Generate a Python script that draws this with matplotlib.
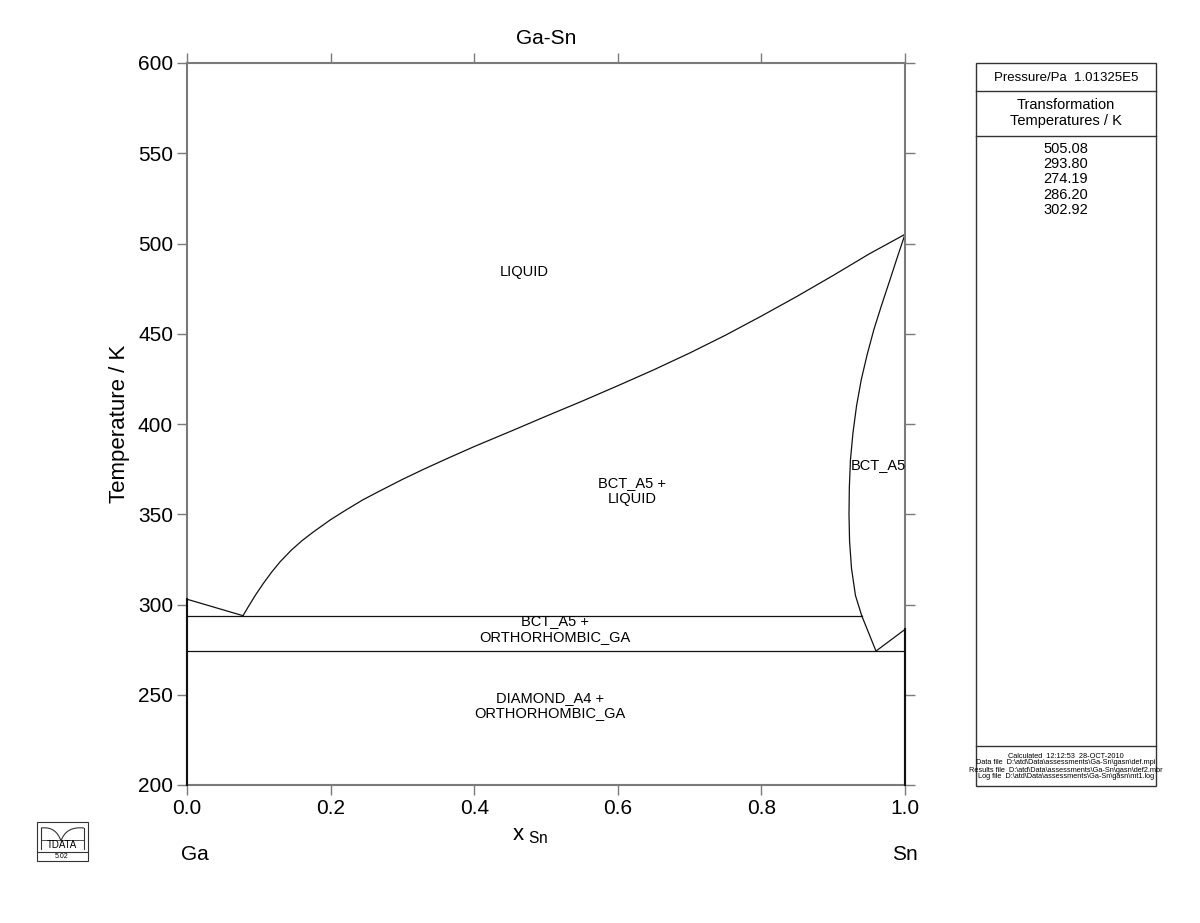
import matplotlib
matplotlib.use("Agg")
import matplotlib.pyplot as plt
from matplotlib.patches import Rectangle
from matplotlib.path import Path
from matplotlib.patches import PathPatch

plt.rcParams['font.family'] = ['Liberation Sans', 'DejaVu Sans']

# ---- data ----
liq_left_x = [0.0, 0.078]
liq_left_T = [302.92, 293.8]

liquidus_x = [0.078, 0.085, 0.095, 0.106, 0.118, 0.130, 0.145, 0.160, 0.176,
              0.200, 0.222, 0.245, 0.269, 0.300, 0.330, 0.362, 0.400, 0.454,
              0.500, 0.550, 0.600, 0.650, 0.700, 0.750, 0.800, 0.850, 0.900,
              0.950, 1.0]
liquidus_T = [293.8, 298.5, 305.0, 311.5, 318.0, 323.8, 330.0, 335.3, 340.2,
              347.0, 352.5, 358.0, 363.0, 369.3, 375.0, 380.8, 387.5, 396.5,
              404.3, 412.6, 421.2, 430.0, 439.3, 449.2, 459.8, 470.8, 482.3,
              494.2, 505.08]

solidus_x = [1.0, 0.989, 0.979, 0.9675, 0.9565, 0.947, 0.939, 0.9325, 0.9275,
             0.924, 0.9225, 0.922, 0.9228, 0.9255, 0.931, 0.9397]
solidus_T = [505.08, 492.0, 479.8, 466.0, 452.1, 438.0, 424.4, 410.0, 395.0,
             380.0, 365.0, 350.0, 335.0, 320.0, 305.0, 293.8]

solvus_x = [0.9397, 0.9596, 1.0]
solvus_T = [293.8, 274.19, 286.2]

eutectic_T = 293.8
eutectoid_T = 274.19
eut_x_end = 0.9397

left_vert_T = [200, 302.92]
right_vert_T = [200, 286.2]

labels = [
    (0.47, 484, "LIQUID"),
    (0.62, 363, "BCT_A5 +\nLIQUID"),
    (0.963, 377, "BCT_A5"),
    (0.513, 286.5, "BCT_A5 +\nORTHORHOMBIC_GA"),
    (0.506, 244, "DIAMOND_A4 +\nORTHORHOMBIC_GA"),
]

trans_temps = ["505.08", "293.80", "274.19", "286.20", "302.92"]

xticks = [0.0, 0.2, 0.4, 0.6, 0.8, 1.0]
yticks = [200, 250, 300, 350, 400, 450, 500, 550, 600]

# ---- figure ----
W, H = 1200, 923
fig = plt.figure(figsize=(W / 100, H / 100), dpi=100)
ax = fig.add_axes([187 / W, 1 - 785 / H, (905 - 187) / W, (785 - 63) / H])

lc = '#111111'
lw = 0.9
ax.plot(liq_left_x, liq_left_T, color=lc, lw=lw)
ax.plot(liquidus_x, liquidus_T, color=lc, lw=lw)
ax.plot(solidus_x, solidus_T, color=lc, lw=lw)
ax.plot(solvus_x, solvus_T, color=lc, lw=lw)
ax.plot([0, eut_x_end], [eutectic_T, eutectic_T], color=lc, lw=lw)
ax.plot([0, 1], [eutectoid_T, eutectoid_T], color=lc, lw=lw)
ax.plot([0, 0], left_vert_T, color=lc, lw=1.5, clip_on=False, zorder=5)
ax.plot([1, 1], right_vert_T, color=lc, lw=1.5, clip_on=False, zorder=5)

for x, y, s in labels:
    ax.text(x, y, s, ha='center', va='center', fontsize=10.5, linespacing=1.15)

ax.set_xlim(0, 1)
ax.set_ylim(200, 600)
ax.set_xticks(xticks)
ax.set_xticklabels([f"{v:.1f}" for v in xticks])
ax.set_yticks(yticks)
spc = '#7a7a7a'
for sp in ax.spines.values():
    sp.set_color(spc)
    sp.set_linewidth(1.5)
ax.tick_params(direction='out', length=7, width=1, color=spc, labelsize=15,
               top=True, right=True, labeltop=False, labelright=False, pad=3)

ax.set_title("Ga-Sn", fontsize=15, pad=14)
ax.set_ylabel("Temperature / K", fontsize=16, labelpad=6)
fig.text(530 / W, 1 - 835 / H, r"x$_{\ \mathregular{Sn}}$", fontsize=16,
         ha='center', va='center')
fig.text(195 / W, 1 - 855 / H, "Ga", fontsize=15, ha='center', va='center')
fig.text(905 / W, 1 - 855 / H, "Sn", fontsize=15, ha='center', va='center')

# ---- right information panel ----
px0, px1 = 976, 1156
py0, py1 = 63, 786


def fx(px):
    return px / W


def fy(py):
    return 1 - py / H


fig.patches.append(Rectangle((fx(px0), fy(py1)), fx(px1) - fx(px0), fy(py0) - fy(py1),
                             transform=fig.transFigure, fill=False, ec='#333333', lw=1))
for yy in (91, 136, 746):
    fig.add_artist(plt.Line2D([fx(px0), fx(px1)], [fy(yy), fy(yy)],
                              transform=fig.transFigure, color='#333333', lw=1))
cx = fx((px0 + px1) / 2)
fig.text(cx, fy(78), "Pressure/Pa  1.01325E5", fontsize=9.5, ha='center', va='center')
fig.text(cx, fy(113), "Transformation\nTemperatures / K", fontsize=10.5,
         ha='center', va='center', linespacing=1.1)
for i, t in enumerate(trans_temps):
    fig.text(cx, fy(149 + i * 15.2), t, fontsize=10.5, ha='center', va='center')
footer = ["Calculated  12:12:53  28-OCT-2010",
          "Data file  D:\\atd\\Data\\assessments\\Ga-Sn\\gasn\\def.mpi",
          "Results file  D:\\atd\\Data\\assessments\\Ga-Sn\\gasn\\def2.mbr",
          "Log file  D:\\atd\\Data\\assessments\\Ga-Sn\\gasn\\mt1.log"]
for i, s in enumerate(footer):
    fig.text(cx, fy(756 + i * 7), s, fontsize=5.3, ha='center', va='center')

# ---- logo ----
lx0, lx1, ly0, ly1 = 37, 88, 822, 861
fig.patches.append(Rectangle((fx(lx0), fy(ly1)), fx(lx1) - fx(lx0), fy(ly0) - fy(ly1),
                             transform=fig.transFigure, fill=False, ec='#333333', lw=0.8))
fig.add_artist(plt.Line2D([fx(lx0), fx(lx1)], [fy(852), fy(852)],
                          transform=fig.transFigure, color='#333333', lw=0.8))
logo_path = Path([(fx(41), fy(828)), (fx(56), fy(826)), (fx(61), fy(841)),
                  (fx(66), fy(826)), (fx(84), fy(828))],
                 [Path.MOVETO, Path.CURVE3, Path.CURVE3, Path.CURVE3, Path.CURVE3])
fig.patches.append(PathPatch(logo_path, transform=fig.transFigure, fill=False,
                             ec='#333333', lw=0.8))
fig.add_artist(plt.Line2D([fx(41), fx(41)], [fy(828), fy(849)],
                          transform=fig.transFigure, color='#333333', lw=0.8))
fig.add_artist(plt.Line2D([fx(84), fx(84)], [fy(828), fy(849)],
                          transform=fig.transFigure, color='#333333', lw=0.8))
fig.add_artist(plt.Line2D([fx(41), fx(84)], [fy(840), fy(840)],
                          transform=fig.transFigure, color='#333333', lw=0.6))
fig.text(fx(62), fy(845), "TDATA", fontsize=7, ha='center', va='center')
fig.text(fx(62), fy(857), "5.02", fontsize=5, ha='center', va='center')

fig.savefig("out.png", dpi=100, facecolor='white')
